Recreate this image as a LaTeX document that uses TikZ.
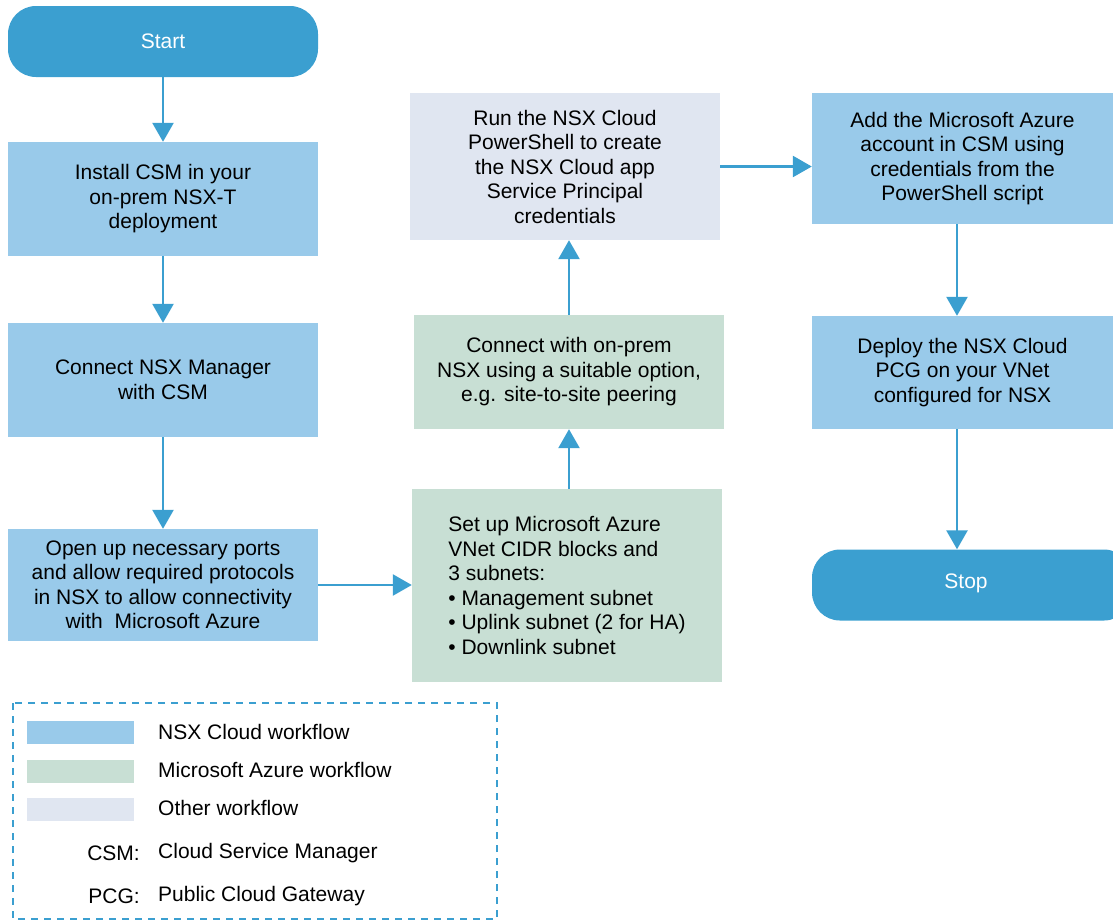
\documentclass[tikz,border=0pt]{standalone}
\usepackage{fontspec}
\setmainfont{Liberation Sans}
\usetikzlibrary{arrows.meta}
\definecolor{termblue}{HTML}{3B9FD0}
\definecolor{nsxblue}{HTML}{99CAEA}
\definecolor{azuregreen}{HTML}{C8DFD4}
\definecolor{otherlav}{HTML}{E0E6F1}
\tikzset{
  box/.style={minimum width=310pt,align=center,inner sep=0pt,
    font=\fontsize{21}{24.5}\selectfont},
  nsxbox/.style={box,fill=nsxblue},
  azurebox/.style={box,fill=azuregreen},
  otherbox/.style={box,fill=otherlav},
  termbox/.style={box,fill=termblue,text=white,rounded corners=28pt,minimum height=71pt},
  flow/.style={draw=termblue,line width=2.6pt,-{Triangle[length=19pt,width=21pt]}},
  legtext/.style={font=\fontsize{21}{24.5}\selectfont,inner sep=0pt}
}
\begin{document}
\begin{tikzpicture}[x=1pt,y=-1pt]
    \useasboundingbox (0,0) rectangle (1113,922);
    % left column
    \node[termbox] (start) at (163,41.5) {Start};
    \node[nsxbox,minimum height=114pt] (install) at (163,199) {Install CSM in your\\ on-prem NSX-T\\ deployment};
    \node[nsxbox,minimum height=114pt] (manager) at (163,380) {Connect NSX Manager\\ with CSM};
    \node[nsxbox,minimum height=112pt] (ports) at (163,585) {Open up necessary ports\\ and allow required protocols\\ in NSX to allow connectivity\\ with\ \ Microsoft Azure};
    % middle column
    \node[azurebox,minimum height=193pt,align=left] (vnet) at (567,585.5) {Set up Microsoft Azure\\ VNet CIDR blocks and\\ 3 subnets:\\ \textbullet\ Management subnet\\ \textbullet\ Uplink subnet (2 for HA)\\ \textbullet\ Downlink subnet};
    \node[azurebox,minimum height=114pt] (peering) at (569,372) {Connect with on-prem\\ NSX using a suitable option,\\ e.g. site-to-site peering};
    \node[otherbox,minimum height=147pt] (script) at (565,166.5) {Run the NSX Cloud\\ PowerShell to create\\ the NSX Cloud app\\ Service Principal\\ credentials};
    % right column
    \node[nsxbox,minimum width=301pt,minimum height=131pt] (account) at (962.5,158.5) {Add the Microsoft Azure\\ account in CSM using\\ credentials from the\\ PowerShell script};
    \node[nsxbox,minimum width=301pt,minimum height=113pt] (pcg) at (962.5,372.5) {Deploy the NSX Cloud\\ PCG on your VNet\\ configured for NSX};
    \node[termbox,minimum width=320pt] (stop) at (972,585) {};
    \node[legtext,text=white] (stoptext) at (966,583) {Stop};

    \draw[flow] (start) -- (install);
    \draw[flow] (install) -- (manager);
    \draw[flow] (manager) -- (ports);
    \draw[flow] (ports) -- (vnet.west |- ports);
    \draw[flow] (vnet.north -| peering) -- (peering);
    \draw[flow] (peering.north -| 569,0) -- (script.south -| 569,0);
    \draw[flow] (script) -- (account.west |- script);
    \draw[flow] (account.south -| 957,0) -- (pcg.north -| 957,0);
    \draw[flow] (pcg.south -| 957,0) -- (stop.north -| 957,0);

    % legend
    \draw[termblue,line width=1.6pt,dash pattern=on 7pt off 6pt] (13,703) rectangle (497,919);
    \fill[nsxblue] (27,721) rectangle (134,744);
    \fill[azuregreen] (27,760) rectangle (134,783);
    \fill[otherlav] (27,798) rectangle (134,821);
    \node[legtext,anchor=west] (l1) at (158,732) {NSX Cloud workflow};
    \node[legtext,anchor=west] (l2) at (158,770) {Microsoft Azure workflow};
    \node[legtext,anchor=west] (l3) at (158,808) {Other workflow};
    \node[legtext,anchor=west] (l4) at (158,853) {Cloud Service Manager};
    \node[legtext,anchor=east] (k4) at (140,853) {CSM:};
    \node[legtext,anchor=west] (l5) at (158,896) {Public Cloud Gateway};
    \node[legtext,anchor=east] (k5) at (140,896) {PCG:};
\end{tikzpicture}
\end{document}
